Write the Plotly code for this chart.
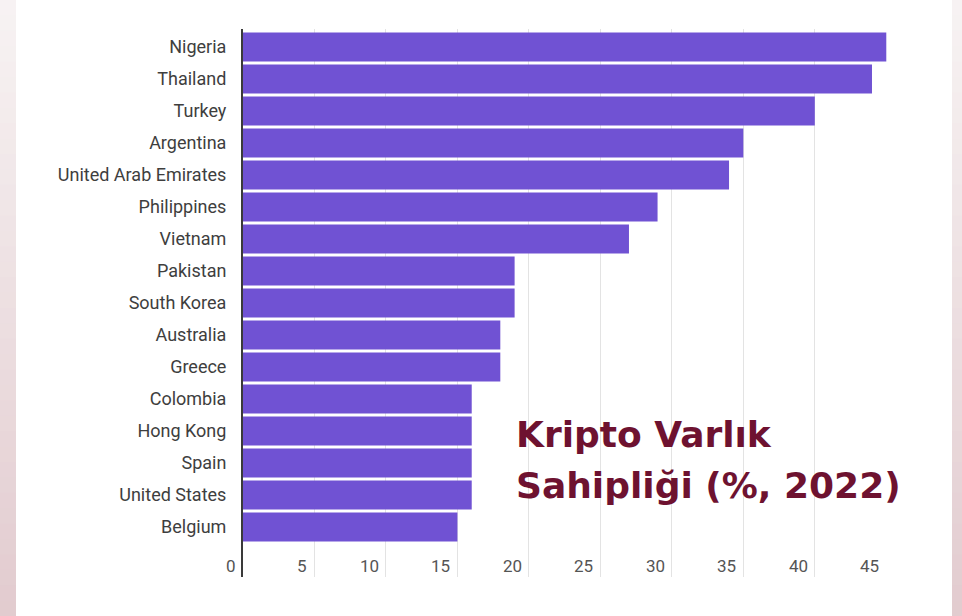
import plotly.graph_objects as go

countries = ["Nigeria", "Thailand", "Turkey", "Argentina", "United Arab Emirates",
             "Philippines", "Vietnam", "Pakistan", "South Korea", "Australia",
             "Greece", "Colombia", "Hong Kong", "Spain", "United States", "Belgium"]
ownership = [45, 44, 40, 35, 34, 29, 27, 19, 19, 18, 18, 16, 16, 16, 16, 15]
x_ticks = [0, 5, 10, 15, 20, 25, 30, 35, 40, 45]
title_lines = ["Kripto Varlık", "Sahipliği (%, 2022)"]

W, H = 962, 616
ML, MR, MT, MB = 243, 75, 29, 39
PW, PH = W - ML - MR, H - MT - MB


def px_x(p):
    return (p - ML) / PW


def px_y(p):
    return (H - MB - p) / PH


fig = go.Figure(go.Bar(
    x=ownership, y=countries, orientation="h",
    marker=dict(color="#7052D3", line=dict(width=0)),
    hoverinfo="x+y",
))

# pinkish gradient side strips
shapes = []
n = 40
top_c = (247, 243, 243)
bot_c = (226, 203, 207)
for i in range(n):
    t = (i + 0.5) / n
    c = tuple(int(round(top_c[k] + (bot_c[k] - top_c[k]) * t)) for k in range(3))
    col = "rgb(%d,%d,%d)" % c
    y0 = H * i / n
    y1 = H * (i + 1) / n + 1
    for (a, b) in [(0, 16), (952, W)]:
        shapes.append(dict(type="rect", xref="paper", yref="paper",
                           x0=px_x(a), x1=px_x(b), y0=px_y(y1), y1=px_y(y0),
                           fillcolor=col, line=dict(width=0), layer="below"))

tick_font = dict(family="Roboto", size=17, color="#555555")
title_font = dict(family="DejaVu Sans", size=36, color="#6E1230", weight="bold")

annotations = [
    dict(text=title_lines[0], xref="paper", yref="paper", x=px_x(514), y=px_y(434),
         xanchor="left", yanchor="middle", showarrow=False, font=title_font),
    dict(text=title_lines[1], xref="paper", yref="paper", x=px_x(514), y=px_y(485),
         xanchor="left", yanchor="middle", showarrow=False, font=title_font),
]
# x tick labels placed left of each gridline, inside the plot bottom
for v in x_ticks:
    annotations.append(dict(text=str(v), xref="x", yref="paper", x=v, y=px_y(566),
                            xanchor="right", yanchor="middle", xshift=-5,
                            showarrow=False, font=tick_font))

fig.update_layout(
    width=W, height=H,
    margin=dict(l=ML, r=MR, t=MT, b=MB),
    paper_bgcolor="white", plot_bgcolor="white",
    bargap=0.1,
    showlegend=False,
    shapes=shapes,
    annotations=annotations,
    xaxis=dict(range=[0, 45.05], tickvals=x_ticks,
               showgrid=True, gridcolor="#E3E3E3", gridwidth=1,
               zeroline=False, showline=False,
               ticks="", showticklabels=False),
    yaxis=dict(range=[16.5625, -0.5625], autorange=False,
               showgrid=False, zeroline=False,
               showline=True, linecolor="#3A3A3A", linewidth=2,
               ticks="", ticklabelstandoff=11,
               tickfont=dict(family="Roboto", size=18, color="#3E3E3E")),
)

fig.write_html("out.html", config={"displayModeBar": False},
               post_script="document.body.style.margin='0';document.body.style.overflow='hidden';")
